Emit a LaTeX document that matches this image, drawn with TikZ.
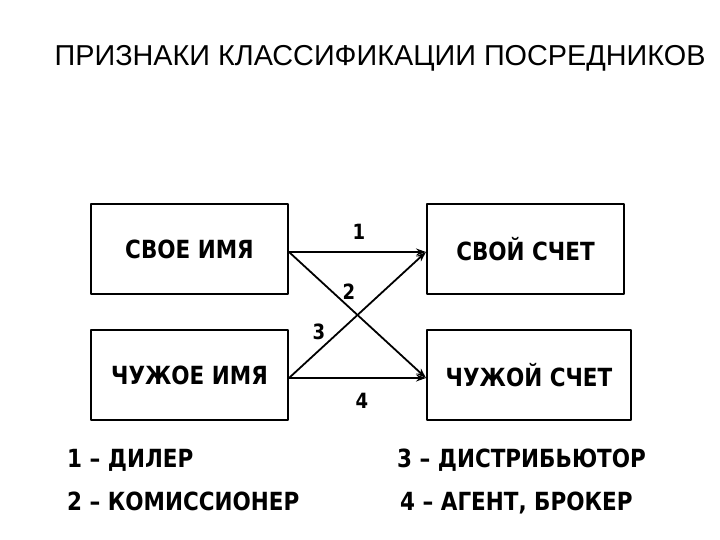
\documentclass[tikz,border=0pt]{standalone}
\usepackage{fontspec}
\setmainfont{DejaVu Sans}[FakeStretch=0.86]
\newfontfamily\titlefont{Liberation Sans}
\usetikzlibrary{arrows.meta}

\begin{document}
\begin{tikzpicture}[x=1bp, y=-1bp, line cap=round, line join=round, >={Stealth[length=10bp, width=7bp]},
    box/.style={draw, line width=2bp, minimum width=197bp, minimum height=90bp, inner sep=0pt,
        font=\bfseries\fontsize{25bp}{29bp}\selectfont},
    num/.style={inner sep=0pt, font=\bfseries\fontsize{21bp}{25bp}\selectfont},
    legend/.style={anchor=base west, inner sep=0pt, font=\bfseries\fontsize{25bp}{29bp}\selectfont}]

        \useasboundingbox (0,0) rectangle (720,540);

        % Title
        \node[anchor=base, inner sep=0pt, font=\titlefont\fontsize{28.8bp}{33bp}\selectfont] (title) at (380,66) {ПРИЗНАКИ КЛАССИФИКАЦИИ ПОСРЕДНИКОВ};

        % Boxes
        \node[box] (ownname) at (189.5,249) {СВОЕ ИМЯ};
        \node[box] (ownacc) at (525.5,249) {СВОЙ СЧЕТ};
        \node[box] (othername) at (189.5,375) {ЧУЖОЕ ИМЯ};
        \node[box, minimum width=204bp] (otheracc) at (529,375) {ЧУЖОЙ СЧЕТ};

        % Arrows (a bit below the box middles)
        \draw[->, line width=1.8bp] ([yshift=-3bp]ownname.east) -- ([yshift=-3bp]ownacc.west);
        \draw[->, line width=1.8bp] ([yshift=-3bp]ownname.east) -- ([yshift=-3bp]otheracc.west);
        \draw[->, line width=1.8bp] ([yshift=-3bp]othername.east) -- ([yshift=-3bp]ownacc.west);
        \draw[->, line width=1.8bp] ([yshift=-3bp]othername.east) -- ([yshift=-3bp]otheracc.west);

        % Arrow numbers
        \node[num] (n1) at (359,232) {1};
        \node[num] (n2) at (349,292) {2};
        \node[num] (n3) at (319,332) {3};
        \node[num] (n4) at (362,401) {4};

        % Legend
        \node[legend] (dealer) at (67,467) {1 – ДИЛЕР};
        \node[legend] (commission) at (67,510) {2 – КОМИССИОНЕР};
        \node[legend] (distributor) at (397,467) {3 – ДИСТРИБЬЮТОР};
        \node[legend] (agent) at (400,510) {4 – АГЕНТ, БРОКЕР};
    \end{tikzpicture}
\end{document}
